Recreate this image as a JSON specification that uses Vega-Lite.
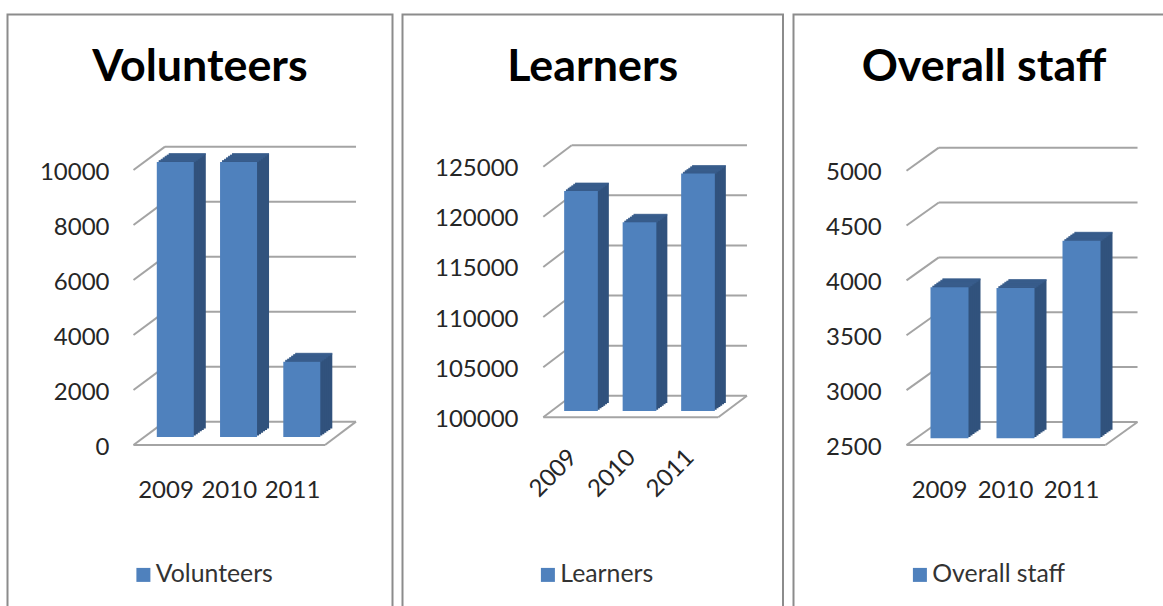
{"$schema":"https://vega.github.io/schema/vega-lite/v6.json","padding":{"left":6.5,"top":13.5,"right":0,"bottom":0},"background":"white","spacing":8,"resolve":{"scale":{"color":"independent"},"legend":{"color":"independent"}},"config":{"font":"Lato","view":{"stroke":"#8c8c8c","strokeWidth":2},"axis":{"domain":false,"ticks":false,"grid":false,"title":null,"labelFont":"Lato","labelFontSize":24,"labelColor":"#262626","labelPadding":0,"labelBound":false,"labelFlush":false},"title":{"font":"Lato","fontSize":44.8,"fontWeight":"bold","color":"#000000","anchor":"middle","frame":"group"},"legend":{"symbolType":"square","symbolSize":196,"symbolStrokeWidth":0,"labelFont":"Lato","labelFontSize":24.8,"labelColor":"#333333","labelOffset":0}},"hconcat":[
{"width":385,"height":593,"title":{"text":"Volunteers","offset":-76},"data":{"values":[{"year":2009,"value":10000,"series":"Volunteers"},{"year":2010,"value":10000,"series":"Volunteers"},{"year":2011,"value":2738,"series":"Volunteers"}]},
"encoding":{"x":{"field":"year","type":"quantitative","scale":{"domain":[2008,2013],"range":[94.75,411],"nice":false,"zero":false,"padding":0},"axis":{"values":[2009,2010,2011],"format":"d","offset":-129,"labelOverlap":false}},"y":{"field":"value","type":"quantitative","scale":{"domain":[0,10000],"range":[430.5,155.5],"nice":false,"zero":false},"axis":{"values":[0,2000,4000,6000,8000,10000],"format":"d","offset":-101.5,"labelOffset":2,"labelOverlap":false}}},
"layer":[
{"data":{"values":[{"x0":2008.494,"y0":0,"x1":2008.992,"y1":850},{"x0":2008.494,"y0":2000,"x1":2008.992,"y1":2850},{"x0":2008.494,"y0":4000,"x1":2008.992,"y1":4850},{"x0":2008.494,"y0":6000,"x1":2008.992,"y1":6850},{"x0":2008.494,"y0":8000,"x1":2008.992,"y1":8850},{"x0":2008.494,"y0":10000,"x1":2008.992,"y1":10850},{"x0":2008.992,"y0":850,"x1":2012.012,"y1":850},{"x0":2008.992,"y0":2850,"x1":2012.012,"y1":2850},{"x0":2008.992,"y0":4850,"x1":2012.012,"y1":4850},{"x0":2008.992,"y0":6850,"x1":2012.012,"y1":6850},{"x0":2008.992,"y0":8850,"x1":2012.012,"y1":8850},{"x0":2008.992,"y0":10850,"x1":2012.012,"y1":10850},{"x0":2008.494,"y0":0,"x1":2011.522,"y1":0},{"x0":2011.522,"y0":0,"x1":2012.012,"y1":850}]},"mark":{"type":"rule","color":"#a4a4a4","strokeWidth":2},"encoding":{"x":{"field":"x0","type":"quantitative"},"x2":{"field":"x1"},"y":{"field":"y0","type":"quantitative"},"y2":{"field":"y1"}}},
{"mark":{"type":"bar","orient":"vertical","width":37,"xOffset":21.8,"yOffset":-16.5,"y2Offset":-16.5,"color":"#31527d"},"encoding":{"y2":{"datum":0}}},
{"mark":{"type":"bar","orient":"vertical","width":37,"xOffset":19.8,"yOffset":-15.1,"y2Offset":-15.1,"color":"#31527d"},"encoding":{"y2":{"datum":0}}},
{"mark":{"type":"bar","orient":"vertical","width":37,"xOffset":17.8,"yOffset":-13.7,"y2Offset":-13.7,"color":"#31527d"},"encoding":{"y2":{"datum":0}}},
{"mark":{"type":"bar","orient":"vertical","width":37,"xOffset":15.8,"yOffset":-12.3,"y2Offset":-12.3,"color":"#31527d"},"encoding":{"y2":{"datum":0}}},
{"mark":{"type":"bar","orient":"vertical","width":37,"xOffset":13.8,"yOffset":-10.8,"y2Offset":-10.8,"color":"#31527d"},"encoding":{"y2":{"datum":0}}},
{"mark":{"type":"bar","orient":"vertical","width":37,"xOffset":11.8,"yOffset":-9.4,"y2Offset":-9.4,"color":"#31527d"},"encoding":{"y2":{"datum":0}}},
{"mark":{"type":"tick","orient":"horizontal","size":37,"thickness":2,"xOffset":21.8,"yOffset":-16,"color":"#3a6090"}},
{"mark":{"type":"tick","orient":"horizontal","size":37,"thickness":2,"xOffset":19.8,"yOffset":-14.6,"color":"#3a6090"}},
{"mark":{"type":"tick","orient":"horizontal","size":37,"thickness":2,"xOffset":17.8,"yOffset":-13.2,"color":"#3a6090"}},
{"mark":{"type":"tick","orient":"horizontal","size":37,"thickness":2,"xOffset":15.8,"yOffset":-11.8,"color":"#3a6090"}},
{"mark":{"type":"tick","orient":"horizontal","size":37,"thickness":2,"xOffset":13.8,"yOffset":-10.3,"color":"#3a6090"}},
{"mark":{"type":"tick","orient":"horizontal","size":37,"thickness":2,"xOffset":11.8,"yOffset":-8.9,"color":"#3a6090"}},
{"mark":{"type":"bar","orient":"vertical","width":37,"xOffset":9.8,"yOffset":-8,"y2Offset":-8},"encoding":{"y2":{"datum":0},"color":{"field":"series","type":"nominal","scale":{"range":["#4f81bd"]},"legend":{"title":null,"orient":"none","legendX":123.5,"legendY":548}}}}
]},
{"width":380.5,"height":593,"title":{"text":"Learners","offset":-76},"data":{"values":[{"year":2009,"value":121950,"series":"Learners"},{"year":2010,"value":118825,"series":"Learners"},{"year":2011,"value":123700,"series":"Learners"}]},
"encoding":{"x":{"field":"year","type":"quantitative","scale":{"domain":[2008,2013],"range":[112,404.5],"nice":false,"zero":false,"padding":0},"axis":{"values":[2009,2010,2011],"format":"d","offset":-154,"labelAngle":-45,"labelAlign":"right","labelBaseline":"middle","labelOverlap":false}},"y":{"field":"value","type":"quantitative","scale":{"domain":[100000,125000],"range":[402.8,152.2],"nice":false,"zero":false},"axis":{"values":[100000,105000,110000,115000,120000,125000],"format":"d","offset":-115.5,"labelOffset":2,"labelOverlap":false}}},
"layer":[
{"data":{"values":[{"x0":2008.492,"y0":100000,"x1":2008.978,"y1":102145},{"x0":2008.492,"y0":105000,"x1":2008.978,"y1":107145},{"x0":2008.492,"y0":110000,"x1":2008.978,"y1":112145},{"x0":2008.492,"y0":115000,"x1":2008.978,"y1":117145},{"x0":2008.492,"y0":120000,"x1":2008.978,"y1":122145},{"x0":2008.492,"y0":125000,"x1":2008.978,"y1":127145},{"x0":2008.978,"y0":102145,"x1":2011.974,"y1":102145},{"x0":2008.978,"y0":107145,"x1":2011.974,"y1":107145},{"x0":2008.978,"y0":112145,"x1":2011.974,"y1":112145},{"x0":2008.978,"y0":117145,"x1":2011.974,"y1":117145},{"x0":2008.978,"y0":122145,"x1":2011.974,"y1":122145},{"x0":2008.978,"y0":127145,"x1":2011.974,"y1":127145},{"x0":2008.492,"y0":100000,"x1":2011.484,"y1":100000},{"x0":2011.484,"y0":100000,"x1":2011.974,"y1":102145}]},"mark":{"type":"rule","color":"#a4a4a4","strokeWidth":2},"encoding":{"x":{"field":"x0","type":"quantitative"},"x2":{"field":"x1"},"y":{"field":"y0","type":"quantitative"},"y2":{"field":"y1"}}},
{"mark":{"type":"bar","orient":"vertical","width":33.7,"xOffset":19,"yOffset":-14.3,"y2Offset":-14.3,"color":"#31527d"},"encoding":{"y2":{"datum":100000}}},
{"mark":{"type":"bar","orient":"vertical","width":33.7,"xOffset":17.2,"yOffset":-13,"y2Offset":-13,"color":"#31527d"},"encoding":{"y2":{"datum":100000}}},
{"mark":{"type":"bar","orient":"vertical","width":33.7,"xOffset":15.3,"yOffset":-11.6,"y2Offset":-11.6,"color":"#31527d"},"encoding":{"y2":{"datum":100000}}},
{"mark":{"type":"bar","orient":"vertical","width":33.7,"xOffset":13.5,"yOffset":-10.3,"y2Offset":-10.3,"color":"#31527d"},"encoding":{"y2":{"datum":100000}}},
{"mark":{"type":"bar","orient":"vertical","width":33.7,"xOffset":11.7,"yOffset":-9,"y2Offset":-9,"color":"#31527d"},"encoding":{"y2":{"datum":100000}}},
{"mark":{"type":"bar","orient":"vertical","width":33.7,"xOffset":9.8,"yOffset":-7.6,"y2Offset":-7.6,"color":"#31527d"},"encoding":{"y2":{"datum":100000}}},
{"mark":{"type":"tick","orient":"horizontal","size":33.7,"thickness":2,"xOffset":19,"yOffset":-13.8,"color":"#3a6090"}},
{"mark":{"type":"tick","orient":"horizontal","size":33.7,"thickness":2,"xOffset":17.2,"yOffset":-12.5,"color":"#3a6090"}},
{"mark":{"type":"tick","orient":"horizontal","size":33.7,"thickness":2,"xOffset":15.3,"yOffset":-11.1,"color":"#3a6090"}},
{"mark":{"type":"tick","orient":"horizontal","size":33.7,"thickness":2,"xOffset":13.5,"yOffset":-9.8,"color":"#3a6090"}},
{"mark":{"type":"tick","orient":"horizontal","size":33.7,"thickness":2,"xOffset":11.7,"yOffset":-8.5,"color":"#3a6090"}},
{"mark":{"type":"tick","orient":"horizontal","size":33.7,"thickness":2,"xOffset":9.8,"yOffset":-7.1,"color":"#3a6090"}},
{"mark":{"type":"bar","orient":"vertical","width":33.7,"xOffset":8,"yOffset":-6.3,"y2Offset":-6.3},"encoding":{"y2":{"datum":100000},"color":{"field":"series","type":"nominal","scale":{"range":["#4f81bd"]},"legend":{"title":null,"orient":"none","legendX":133,"legendY":548}}}}
]},
{"width":372,"height":593,"title":{"text":"Overall staff","offset":-76,"dx":4.5},"data":{"values":[{"year":2009,"value":3876,"series":"Overall staff"},{"year":2010,"value":3870,"series":"Overall staff"},{"year":2011,"value":4300,"series":"Overall staff"}]},
"encoding":{"x":{"field":"year","type":"quantitative","scale":{"domain":[2008,2013],"range":[79.5,409.5],"nice":false,"zero":false,"padding":0},"axis":{"values":[2009,2010,2011],"format":"d","offset":-129,"labelOverlap":false}},"y":{"field":"value","type":"quantitative","scale":{"domain":[2500,5000],"range":[430.5,156.2],"nice":false,"zero":false},"axis":{"values":[2500,3000,3500,4000,4500,5000],"format":"d","offset":-87.7,"labelOffset":2,"labelOverlap":false}}},
"layer":[
{"data":{"values":[{"x0":2008.508,"y0":2500,"x1":2008.997,"y1":2710},{"x0":2008.508,"y0":3000,"x1":2008.997,"y1":3210},{"x0":2008.508,"y0":3500,"x1":2008.997,"y1":3710},{"x0":2008.508,"y0":4000,"x1":2008.997,"y1":4210},{"x0":2008.508,"y0":4500,"x1":2008.997,"y1":4710},{"x0":2008.508,"y0":5000,"x1":2008.997,"y1":5210},{"x0":2008.997,"y0":2710,"x1":2012.008,"y1":2710},{"x0":2008.997,"y0":3210,"x1":2012.008,"y1":3210},{"x0":2008.997,"y0":3710,"x1":2012.008,"y1":3710},{"x0":2008.997,"y0":4210,"x1":2012.008,"y1":4210},{"x0":2008.997,"y0":4710,"x1":2012.008,"y1":4710},{"x0":2008.997,"y0":5210,"x1":2012.008,"y1":5210},{"x0":2008.508,"y0":2500,"x1":2011.523,"y1":2500},{"x0":2011.523,"y0":2500,"x1":2012.008,"y1":2710}]},"mark":{"type":"rule","color":"#a4a4a4","strokeWidth":2},"encoding":{"x":{"field":"x0","type":"quantitative"},"x2":{"field":"x1"},"y":{"field":"y0","type":"quantitative"},"y2":{"field":"y1"}}},
{"mark":{"type":"bar","orient":"vertical","width":38,"xOffset":22.5,"yOffset":-15.2,"y2Offset":-15.2,"color":"#31527d"},"encoding":{"y2":{"datum":2500}}},
{"mark":{"type":"bar","orient":"vertical","width":38,"xOffset":20.5,"yOffset":-13.8,"y2Offset":-13.8,"color":"#31527d"},"encoding":{"y2":{"datum":2500}}},
{"mark":{"type":"bar","orient":"vertical","width":38,"xOffset":18.5,"yOffset":-12.4,"y2Offset":-12.4,"color":"#31527d"},"encoding":{"y2":{"datum":2500}}},
{"mark":{"type":"bar","orient":"vertical","width":38,"xOffset":16.5,"yOffset":-11,"y2Offset":-11,"color":"#31527d"},"encoding":{"y2":{"datum":2500}}},
{"mark":{"type":"bar","orient":"vertical","width":38,"xOffset":14.5,"yOffset":-9.5,"y2Offset":-9.5,"color":"#31527d"},"encoding":{"y2":{"datum":2500}}},
{"mark":{"type":"bar","orient":"vertical","width":38,"xOffset":12.5,"yOffset":-8.1,"y2Offset":-8.1,"color":"#31527d"},"encoding":{"y2":{"datum":2500}}},
{"mark":{"type":"tick","orient":"horizontal","size":38,"thickness":2,"xOffset":22.5,"yOffset":-14.7,"color":"#3a6090"}},
{"mark":{"type":"tick","orient":"horizontal","size":38,"thickness":2,"xOffset":20.5,"yOffset":-13.3,"color":"#3a6090"}},
{"mark":{"type":"tick","orient":"horizontal","size":38,"thickness":2,"xOffset":18.5,"yOffset":-11.9,"color":"#3a6090"}},
{"mark":{"type":"tick","orient":"horizontal","size":38,"thickness":2,"xOffset":16.5,"yOffset":-10.5,"color":"#3a6090"}},
{"mark":{"type":"tick","orient":"horizontal","size":38,"thickness":2,"xOffset":14.5,"yOffset":-9,"color":"#3a6090"}},
{"mark":{"type":"tick","orient":"horizontal","size":38,"thickness":2,"xOffset":12.5,"yOffset":-7.6,"color":"#3a6090"}},
{"mark":{"type":"bar","orient":"vertical","width":38,"xOffset":10.5,"yOffset":-6.7,"y2Offset":-6.7},"encoding":{"y2":{"datum":2500},"color":{"field":"series","type":"nominal","scale":{"range":["#4f81bd"]},"legend":{"title":null,"orient":"none","legendX":114,"legendY":548}}}}
]}
]}
